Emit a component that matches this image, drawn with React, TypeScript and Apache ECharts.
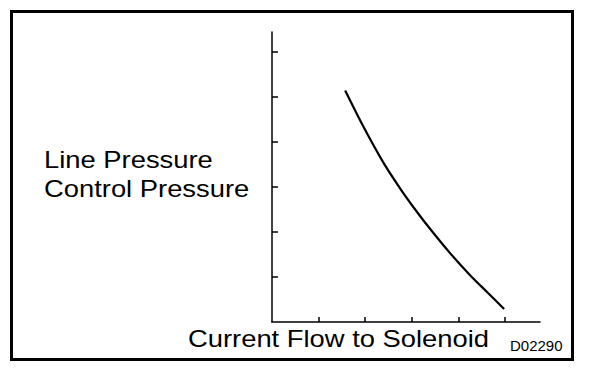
import React, { useEffect, useRef } from "react";
import * as echarts from "echarts";

const currentFlow = [1.57, 1.96, 2.39, 2.78, 3.1, 3.39, 3.82, 4.25, 4.64, 4.98];
const pressure = [5.14, 4.34, 3.54, 2.92, 2.46, 2.07, 1.53, 1.04, 0.64, 0.29];
const xTicks = [1, 2, 3, 4, 5];
const yTicks = [1, 2, 3, 4, 5, 6];
const yLabelLines = ["Line Pressure", "Control Pressure"];
const xTitle = "Current Flow to Solenoid";
const figureCode = "D02290";

export default function App() {
  const ref = useRef<HTMLDivElement>(null);
  useEffect(() => {
    document.body.style.margin = "0";
    const chart = echarts.init(ref.current!, null, { renderer: "svg" });
    const font = "Liberation Sans, Arial, sans-serif";
    chart.setOption({
      animation: false,
      backgroundColor: "#fff",
      grid: { left: 272, top: 32, width: 268, height: 290 },
      xAxis: {
        type: "value",
        min: 0,
        max: 5.75,
        interval: 1,
        axisLine: { lineStyle: { color: "#000", width: 1.5 } },
        axisTick: { show: true, inside: true, length: 5, customValues: xTicks, lineStyle: { color: "#000", width: 1.5 } },
        axisLabel: { show: false },
        splitLine: { show: false },
      },
      yAxis: {
        type: "value",
        min: 0,
        max: 6.44,
        interval: 1,
        axisLine: { show: true, lineStyle: { color: "#000", width: 1.5 } },
        axisTick: { show: true, inside: true, length: 6, customValues: yTicks, lineStyle: { color: "#000", width: 1.5 } },
        axisLabel: { show: false },
        splitLine: { show: false },
      },
      series: [
        {
          type: "line",
          data: currentFlow.map((x, i) => [x, pressure[i]]),
          smooth: 0.3,
          showSymbol: false,
          lineStyle: { color: "#000", width: 2.2 },
        },
      ],
      graphic: [
        {
          type: "rect",
          shape: { x: 11.5, y: 11.5, width: 561, height: 348 },
          style: { fill: "none", stroke: "#000", lineWidth: 3 },
        },
        ...yLabelLines.map((t, i) => ({
          type: "text",
          x: 44,
          y: 160 + i * 28.5,
          scaleX: 1.19,
          style: { text: t, font: `23px ${font}`, fill: "#000", verticalAlign: "middle", align: "left" },
        })),
        {
          type: "text",
          x: 188,
          y: 339,
          scaleX: 1.19,
          style: { text: xTitle, font: `23px ${font}`, fill: "#000", verticalAlign: "middle", align: "left" },
        },
        {
          type: "text",
          x: 510,
          y: 345,
          style: { text: figureCode, font: `15px ${font}`, fill: "#000", verticalAlign: "middle", align: "left" },
        },
      ],
    });
    return () => chart.dispose();
  }, []);
  return <div ref={ref} style={{ width: 608, height: 374 }} />;
}
